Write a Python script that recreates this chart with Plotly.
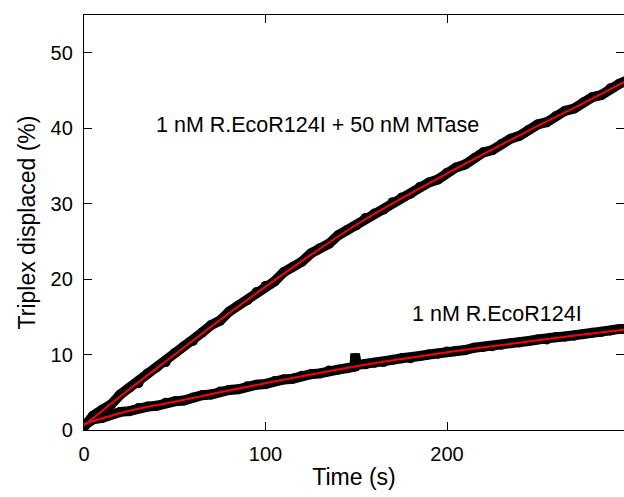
import plotly.graph_objects as go

# Time axis of the recorded traces (s)
t_mtase = [0, 5, 10, 15, 20, 25, 30, 35, 40, 45, 50, 55, 60, 65, 70, 75, 80, 85, 90, 95,
           100, 105, 110, 115, 120, 125, 130, 135, 140, 145, 150, 155, 160, 165, 170, 175,
           180, 185, 190, 195, 200, 205, 210, 215, 220, 225, 230, 235, 240, 245, 250, 255,
           260, 265, 270, 275, 280, 285, 290, 295, 300]
# Triplex displaced (%) with 1 nM R.EcoR124I + 50 nM MTase
y_mtase = [0.4, 1.9, 2.7, 3.4, 4.7, 5.6, 6.2, 7.5, 8.3, 9.0, 10.2, 11.1, 11.8, 12.9, 13.9,
           14.5, 15.7, 16.5, 17.2, 18.3, 19.1, 19.7, 20.9, 21.6, 22.3, 23.4, 24.1, 24.7,
           25.8, 26.5, 27.1, 28.1, 28.7, 29.2, 30.2, 30.8, 31.3, 32.2, 32.8, 33.2, 34.1,
           34.8, 35.2, 36.0, 36.8, 37.1, 37.9, 38.6, 39.0, 39.8, 40.5, 40.8, 41.6, 42.3,
           42.6, 43.4, 44.1, 44.4, 45.3, 45.9, 46.4]

t_enzyme = [0, 5, 10, 15, 20, 25, 30, 35, 40, 45, 50, 55, 60, 65, 70, 75, 80, 85, 90, 95,
            100, 105, 110, 115, 120, 125, 130, 135, 140, 145, 149, 149.3, 149.6, 150, 155,
            160, 165, 170, 175, 180, 185, 190, 195, 200, 205, 210, 215, 220, 225, 230, 235,
            240, 245, 250, 255, 260, 265, 270, 275, 280, 285, 290, 295, 300]
# Triplex displaced (%) with 1 nM R.EcoR124I alone
y_enzyme = [0.6, 1.4, 1.6, 2.1, 2.4, 2.5, 2.9, 3.1, 3.2, 3.6, 3.8, 3.9, 4.3, 4.6, 4.7, 5.1,
            5.3, 5.4, 5.8, 6.0, 6.1, 6.5, 6.7, 6.8, 7.2, 7.4, 7.5, 7.9, 8.0, 8.2, 8.4, 9.5,
            9.5, 8.6, 8.7, 8.9, 9.0, 9.3, 9.5, 9.5, 9.8, 10.0, 10.1, 10.4, 10.5, 10.6,
            10.9, 11.0, 11.1, 11.3, 11.5, 11.6, 11.8, 12.0, 12.0, 12.3, 12.4, 12.5, 12.7,
            12.9, 13.0, 13.2, 13.4, 13.4]

# Fitted curves
t_fit = [0, 25, 50, 75, 100, 125, 150, 175, 200, 225, 250, 275, 300]
fit_mtase = [0.6, 5.4, 10.0, 14.6, 19.0, 23.2, 27.2, 30.7, 34.0, 37.2, 40.3, 43.3, 46.4]
fit_enzyme = [0.8, 2.55, 3.75, 5.0, 6.2, 7.35, 8.45, 9.4, 10.3, 11.1, 11.9, 12.65, 13.35]

labels = ["1 nM R.EcoR124I + 50 nM MTase", "1 nM R.EcoR124I"]
x_ticks = [0, 100, 200]
y_ticks = [0, 10, 20, 30, 40, 50]

FONT = "Liberation Sans, Arial, sans-serif"

fig = go.Figure()
for tx, ty in [(t_mtase, y_mtase), (t_enzyme, y_enzyme)]:
    fig.add_trace(go.Scatter(
        x=tx, y=ty, mode="lines+markers",
        line=dict(color="black", width=10),
        marker=dict(color="black", size=10),
        showlegend=False, hoverinfo="skip",
    ))
for fy in [fit_mtase, fit_enzyme]:
    fig.add_trace(go.Scatter(
        x=t_fit, y=fy, mode="lines",
        line=dict(color="#ff0000", width=2, shape="spline"),
        showlegend=False, hoverinfo="skip",
    ))

fig.add_annotation(x=128.9, y=40.4, text=labels[0], showarrow=False,
                   font=dict(family=FONT, size=21.5, color="black"))
fig.add_annotation(x=227.5, y=15.4, text=labels[1], showarrow=False,
                   font=dict(family=FONT, size=21.5, color="black"))

axis_common = dict(
    showline=True, linecolor="black", linewidth=1.3, mirror="ticks",
    ticks="inside", ticklen=8, tickwidth=1, tickcolor="black",
    showgrid=False, zeroline=False,
    tickfont=dict(family=FONT, size=20, color="black"),
)

fig.update_xaxes(range=[0, 297.5], tickvals=x_ticks, ticklabelstandoff=6,
                 title=dict(text="Time (s)", font=dict(family=FONT, size=23, color="black"),
                            standoff=4),
                 **axis_common)
fig.update_yaxes(range=[0, 55], tickvals=y_ticks, ticklabelstandoff=6,
                 title=dict(text="Triplex displaced (%)",
                            font=dict(family=FONT, size=23, color="black"), standoff=8),
                 **axis_common)

fig.update_layout(
    width=624, height=497,
    margin=dict(l=84, r=0, t=15, b=67),
    plot_bgcolor="white", paper_bgcolor="white",
)

fig.write_html("out.html")
